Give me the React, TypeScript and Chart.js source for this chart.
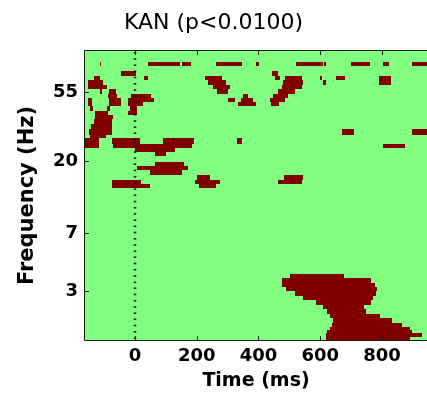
import React, { useEffect, useRef } from 'react';
import { Chart, registerables } from 'chart.js';

Chart.register(...registerables);

// ---------------- data ----------------
const titleText = 'KAN (p<0.0100)';
const xAxisLabel = 'Time (ms)';
const yAxisLabel = 'Frequency (Hz)';
const timeRange = [-162, 946];
const freqRange = [1.47, 100];
const timeTicks = [0, 200, 400, 600, 800];
const freqTicks = [3, 7, 20, 55];
const stimulusOnset = 0;

// significant cells: [tStart (ms), tEnd (ms), fLow (Hz), fHigh (Hz)]
const topRowClusters = [
  [-115, -110, 80.4, 84.8], [43, 146, 80.4, 84.8], [151, 183, 80.4, 84.8],
  [262, 348, 80.4, 84.8], [393, 403, 80.4, 84.8], [520, 608, 80.4, 84.8],
  [612, 618, 80.4, 84.8], [699, 761, 80.4, 84.8], [802, 824, 80.4, 84.8],
  [896, 960, 80.4, 84.8],
];

const gammaClusters = [
  [-46, 2, 69.3, 74.4], [443, 464, 69.3, 74.4],
  [-133, -113, 65.2, 69.3], [30, 43, 65.2, 69.3], [227, 281, 65.2, 69.3], [453, 470, 65.2, 69.3],
  [486, 541, 65.2, 69.3], [599, 607, 65.2, 69.3], [650, 680, 65.2, 69.3], [791, 828, 65.2, 69.3],
  [-151, -103, 61.3, 65.2], [237, 295, 61.3, 65.2], [480, 545, 61.3, 65.2], [608, 618, 61.3, 65.2],
  [791, 828, 61.3, 65.2],
  [-151, -92, 57.4, 61.3], [252, 308, 57.4, 61.3], [475, 540, 57.4, 61.3],
  [-113, -106, 53.7, 57.4], [-83, -62, 53.7, 57.4], [267, 301, 53.7, 57.4], [464, 518, 53.7, 57.4],
  [-87, -58, 50.5, 53.7], [-13, 52, 50.5, 53.7], [351, 367, 50.5, 53.7], [447, 496, 50.5, 53.7],
  [-152, -138, 47.5, 50.5], [-83, -46, 47.5, 50.5], [-24, 61, 47.5, 50.5], [302, 324, 47.5, 50.5],
  [343, 383, 47.5, 50.5], [436, 486, 47.5, 50.5],
  [-151, -138, 44.6, 47.5], [-83, -46, 44.6, 47.5], [-24, 26, 44.6, 47.5], [335, 393, 44.6, 47.5],
  [440, 466, 44.6, 47.5],
  [-146, -135, 41.9, 44.6], [-92, -81, 41.9, 44.6], [-15, 7, 41.9, 44.6],
];

const betaClusters = [
  [-130, -86, 39.4, 41.9], [-24, 5, 39.4, 41.9],
  [-130, -70, 36.9, 39.4],
  [-134, -74, 34.6, 36.9],
  [-142, -76, 32.2, 34.6],
  [-148, -74, 29.5, 32.2], [671, 709, 29.5, 31.8], [896, 960, 29.5, 31.8],
  [-146, -93, 27.9, 29.5],
  [-165, -116, 25.9, 27.9], [-74, 15, 25.9, 27.9], [92, 190, 25.9, 27.9], [329, 346, 25.9, 27.9],
  [-165, -116, 24.4, 25.9], [-70, 185, 24.4, 25.9], [802, 875, 24.4, 25.9],
  [0, 130, 22.9, 24.4],
  [65, 100, 21.5, 22.9],
  [66, 159, 18.6, 19.8],
  [7, 172, 17.5, 18.6],
  [47, 151, 16.3, 17.5],
  [202, 243, 15.3, 16.3], [484, 545, 15.3, 16.3],
  [-74, 20, 14.3, 15.3], [193, 275, 14.3, 15.3], [464, 542, 14.3, 15.3],
  [-74, 47, 13.5, 14.3], [207, 261, 13.5, 14.3],
];

const thetaCluster = [
  [502, 677, 3.61, 3.83],
  [475, 763, 3.40, 3.61],
  [475, 779, 3.18, 3.40],
  [489, 785, 2.99, 3.18],
  [518, 781, 2.80, 2.99],
  [545, 772, 2.63, 2.80],
  [585, 764, 2.46, 2.63],
  [609, 742, 2.31, 2.46],
  [622, 748, 2.16, 2.31],
  [632, 794, 2.02, 2.16],
  [640, 831, 1.89, 2.02],
  [638, 864, 1.78, 1.89],
  [632, 891, 1.69, 1.78],
  [622, 896, 1.62, 1.69],
  [620, 929, 1.54, 1.62],
  [619, 891, 1.47, 1.54],
];

// ---------------- styles ----------------
const BG_COLOR = '#80ff80';
const SIG_COLOR = '#800000';
const AXIS_COLOR = '#1a1a1a';
const FONT = 'DejaVu Sans';

const allClusters = [...topRowClusters, ...gammaClusters, ...betaClusters, ...thetaCluster];

const mapPlugin = {
  id: 'sigmap',
  beforeDatasetsDraw(chart: any) {
    const { ctx, chartArea: a, scales } = chart;
    const xs = scales.x;
    const ys = scales.y;
    ctx.save();
    ctx.beginPath();
    ctx.rect(a.left, a.top, a.right - a.left, a.bottom - a.top);
    ctx.clip();
    ctx.fillStyle = BG_COLOR;
    ctx.fillRect(a.left, a.top, a.right - a.left, a.bottom - a.top);
    ctx.fillStyle = SIG_COLOR;
    for (const [t0, t1, f0, f1] of allClusters) {
      const x0 = Math.round(xs.getPixelForValue(t0));
      const x1 = Math.round(xs.getPixelForValue(t1));
      const yTop = Math.round(ys.getPixelForValue(f1));
      const yBot = Math.round(ys.getPixelForValue(f0));
      ctx.fillRect(x0, yTop, Math.max(1, x1 - x0), Math.max(1, yBot - yTop));
    }
    ctx.restore();
  },
  afterDatasetsDraw(chart: any) {
    const { ctx, chartArea: a, scales } = chart;
    const xs = scales.x;
    const ys = scales.y;
    ctx.save();
    // onset dotted line
    const xo = Math.round(xs.getPixelForValue(stimulusOnset));
    ctx.strokeStyle = '#111';
    ctx.lineWidth = 2.5;
    ctx.setLineDash([1.5, 4.7]);
    ctx.beginPath();
    ctx.moveTo(xo, a.top + 1);
    ctx.lineTo(xo, a.bottom);
    ctx.stroke();
    ctx.setLineDash([]);
    // box (top, left, bottom)
    ctx.strokeStyle = AXIS_COLOR;
    ctx.lineWidth = 1;
    ctx.beginPath();
    ctx.moveTo(a.left - 0.5, a.top - 0.5);
    ctx.lineTo(chart.width, a.top - 0.5);
    ctx.moveTo(a.left - 0.5, a.top - 0.5);
    ctx.lineTo(a.left - 0.5, a.bottom + 0.5);
    ctx.moveTo(a.left - 0.5, a.bottom + 0.5);
    ctx.lineTo(chart.width, a.bottom + 0.5);
    // inward tick marks
    for (const v of timeTicks) {
      const px = Math.round(xs.getPixelForValue(v)) + 0.5;
      ctx.moveTo(px, a.bottom);
      ctx.lineTo(px, a.bottom - 4);
      ctx.moveTo(px, a.top);
      ctx.lineTo(px, a.top + 4);
    }
    for (const v of freqTicks) {
      const py = Math.round(ys.getPixelForValue(v)) + 0.5;
      ctx.moveTo(a.left, py);
      ctx.lineTo(a.left + 4, py);
    }
    ctx.stroke();
    ctx.restore();
  },
};

export default function App() {
  const canvasRef = useRef<HTMLCanvasElement | null>(null);

  useEffect(() => {
    document.body.style.margin = '0';
    document.body.style.overflow = 'hidden';
    const canvas = canvasRef.current;
    if (!canvas) return;
    const chart = new Chart(canvas, {
      type: 'scatter',
      data: { datasets: [{ data: [] }] },
      plugins: [mapPlugin],
      options: {
        responsive: false,
        animation: false,
        events: [],
        layout: { padding: 0 },
        plugins: {
          legend: { display: false },
          tooltip: { enabled: false },
          title: {
            display: true,
            text: titleText,
            color: '#000',
            font: { family: FONT, size: 22, weight: 'normal', lineHeight: 1.2 },
            padding: { top: 10, bottom: 14.6 },
          },
        },
        scales: {
          x: {
            type: 'linear',
            min: timeRange[0],
            max: timeRange[1],
            grid: { display: false, drawTicks: false },
            border: { display: false },
            afterBuildTicks: (s: any) => {
              s.ticks = timeTicks.map((v) => ({ value: v }));
            },
            afterFit: (s: any) => {
              s.height = 53;
            },
            ticks: {
              color: '#000',
              autoSkip: false,
              maxRotation: 0,
              padding: 6,
              font: { family: FONT, size: 18, weight: 'bold' },
              callback: (v: any) => String(v),
            },
            title: {
              display: true,
              text: xAxisLabel,
              color: '#000',
              font: { family: FONT, size: 19, weight: 'bold', lineHeight: 1 },
              padding: { top: 0, bottom: 2 },
            },
          },
          y: {
            type: 'logarithmic',
            min: freqRange[0],
            max: freqRange[1],
            grid: { display: false, drawTicks: false },
            border: { display: false },
            afterBuildTicks: (s: any) => {
              s.ticks = freqTicks.map((v) => ({ value: v }));
            },
            afterFit: (s: any) => {
              s.width = 85;
            },
            ticks: {
              color: '#000',
              autoSkip: false,
              padding: 7,
              font: { family: FONT, size: 18, weight: 'bold' },
              callback: (v: any) => String(v),
            },
            title: {
              display: true,
              text: yAxisLabel,
              color: '#000',
              font: { family: FONT, size: 21, weight: 'bold', lineHeight: 1 },
              padding: { top: 17, bottom: 0 },
            },
          },
        },
      },
    } as any);
    return () => chart.destroy();
  }, []);

  return (
    <div style={{ width: 427, height: 393 }}>
      <canvas ref={canvasRef} width={427} height={393} style={{ display: 'block' }} />
    </div>
  );
}
